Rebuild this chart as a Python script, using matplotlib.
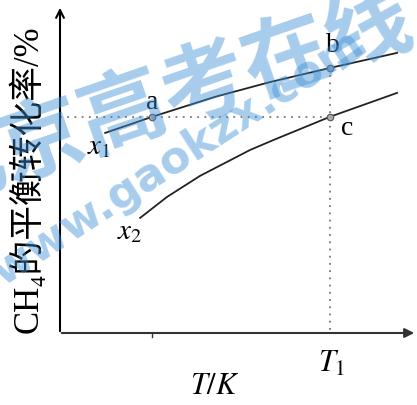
import matplotlib
matplotlib.use('Agg')
import matplotlib.pyplot as plt

plt.rcParams['mathtext.fontset'] = 'stix'

# data (arbitrary units: T axis 0..10, conversion 0..100)
T_x1 = [1.29, 2.63, 4.43, 6.0, 7.71, 9.63]
conv_x1 = [61.0, 65.9, 72.0, 76.5, 80.8, 85.4]
T_x2 = [2.29, 3.06, 4.0, 5.43, 6.09, 7.71, 9.63]
conv_x2 = [35.1, 41.5, 47.9, 55.8, 58.8, 65.9, 73.2]
T1 = 7.71
pt_labels = ['a', 'b', 'c']
pt_T = [2.63, 7.71, 7.71]
pt_conv = [65.9, 80.8, 65.9]

serif = ['Liberation Serif', 'Noto Sans CJK SC']

fig = plt.figure(figsize=(4.17, 4.05), dpi=100)
ax = fig.add_axes([0, 0, 1, 1])
ax.set_xlim(-60 / 35, 357 / 35)
ax.set_ylim(-72 / 3.28, 333 / 3.28)
ax.axis('off')

# axes with arrows
ax.annotate('', xy=(0, 100), xytext=(0, -0.3),
            arrowprops=dict(arrowstyle='->', lw=1.5, color='black', mutation_scale=14))
ax.annotate('', xy=(10.2, 0), xytext=(-0.03, 0),
            arrowprops=dict(arrowstyle='-|>', lw=1.5, color='#333333', mutation_scale=14))
ax.plot([pt_T[0], pt_T[0]], [0, -1.2], color='#333333', lw=1)

# curves
ax.plot(T_x1, conv_x1, color='#222222', lw=1.3)
ax.plot(T_x2, conv_x2, color='#222222', lw=1.3)

# guide lines
ax.plot([0, pt_T[2]], [pt_conv[2], pt_conv[2]], color='#777777', lw=1.3, ls=(0, (1, 3)))
ax.plot([T1, T1], [pt_conv[1], 0], color='#777777', lw=1.3, ls=(0, (1, 3)))

# points
ax.scatter(pt_T, pt_conv, s=22, facecolor='#aaaaaa', edgecolor='#555555', lw=0.8, zorder=5)

# labels
ax.text(2.63, 70.3, pt_labels[0], fontsize=20, family=serif, ha='center', va='center')
ax.text(7.8, 87.8, pt_labels[1], fontsize=20, family=serif, ha='center', va='center')
ax.text(8.2, 62.3, pt_labels[2], fontsize=20, family=serif, ha='center', va='center')
ax.text(1.12, 57.0, '$x_1$', fontsize=21, ha='center', va='center')
ax.text(2.0, 31.0, '$x_2$', fontsize=21, ha='center', va='center')
ax.text(7.77, -9.3, '$T_1$', fontsize=22, ha='center', va='center')
ax.text(4.43, -16.0, '$T/K$', fontsize=22, ha='center', va='center')
ax.text(-0.93, 47.0, 'CH\u2084的平衡转化率/%', fontsize=25, family=serif,
        rotation=90, ha='center', va='center')

# watermark
fig.text(165 / 417, 1 - 100 / 405, '北京高考在线', fontsize=62, fontweight='black',
         family=['Noto Sans CJK SC'], color='#3d8fd6', alpha=0.45,
         rotation=19, ha='center', va='center', zorder=10)
fig.text(178 / 417, 1 - 158 / 405, 'www.gaokzx.com', fontsize=32, fontweight='bold',
         family=['DejaVu Sans'], color='#3d8fd6', alpha=0.45,
         rotation=33, ha='center', va='center', zorder=10)

fig.savefig('out.png', dpi=100)
